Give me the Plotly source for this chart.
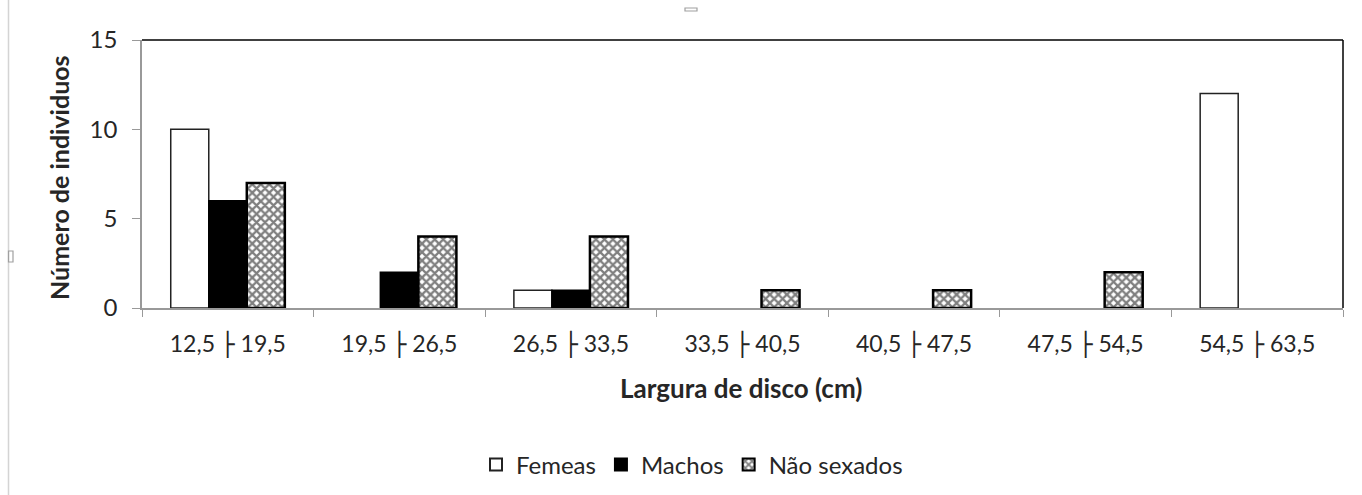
import plotly.graph_objects as go

categories = ["12,5 ├ 19,5", "19,5 ├ 26,5", "26,5 ├ 33,5", "33,5 ├ 40,5",
              "40,5 ├ 47,5", "47,5 ├ 54,5", "54,5 ├ 63,5"]
femeas = [10, 0, 1, 0, 0, 0, 12]
machos = [6, 2, 1, 0, 0, 0, 0]
nao_sexados = [7, 4, 4, 1, 1, 2, 0]
y_ticks = [0, 5, 10, 15]

FONT = "Lato, Liberation Sans, sans-serif"
TXT = "#262626"

# plot area in pixels: left 142, right 1343, top 40, bottom 308
def px(x):
    return (x - 142) / 1201.0

def py(y):
    return (308 - y) / 268.0

def nz(vals):
    return [v if v else None for v in vals]

ticktext = [c.replace(" ├ ", " <span style='font-family:DejaVu Sans;font-weight:bold'>├</span> ")
            for c in categories]

fig = go.Figure()
fig.add_trace(go.Bar(x=categories, y=nz(femeas), name="Femeas",
                     marker=dict(color="white", line=dict(color="#222", width=1.5))))
fig.add_trace(go.Bar(x=categories, y=nz(machos), name="Machos",
                     marker=dict(color="black", line=dict(color="black", width=1.5))))
fig.add_trace(go.Bar(x=categories, y=nz(nao_sexados), name="Não sexados",
                     marker=dict(color="white", line=dict(color="black", width=2.5),
                                 pattern=dict(shape="x", fgcolor="black", bgcolor="white",
                                              size=6, solidity=0.62))))

fig.update_layout(
    width=1362, height=495,
    paper_bgcolor="white", plot_bgcolor="white",
    margin=dict(l=142, r=19, t=40, b=187, autoexpand=False),
    barmode="group", bargap=0.335, bargroupgap=0,
    font=dict(family=FONT, color=TXT),
    showlegend=True,
    legend=dict(orientation="h", x=px(692), xanchor="center", y=py(465), yanchor="middle",
                font=dict(size=24, family=FONT, color=TXT), itemsizing="constant",
                traceorder="normal", itemwidth=30),
    xaxis=dict(
        tickvals=categories, ticktext=ticktext,
        tickfont=dict(size=23, family=FONT, color=TXT),
        showline=True, linecolor="#999", linewidth=1.5, mirror=False,
        ticks="outside", ticklen=7, tickcolor="#999", tickson="boundaries",
        ticklabelstandoff=15,
        showgrid=False,
    ),
    yaxis=dict(
        range=[0, 15], tickvals=y_ticks, tickfont=dict(size=24, family=FONT, color=TXT),
        showline=True, linecolor="#999", linewidth=1.5,
        ticks="outside", ticklen=8, tickcolor="#999", ticklabelstandoff=10,
        showgrid=False, zeroline=False,
    ),
    annotations=[
        dict(text="<b>Largura de disco (cm)</b>", xref="paper", yref="paper",
             x=px(741), y=py(388), xanchor="center", yanchor="middle", showarrow=False,
             font=dict(size=26, family=FONT, color=TXT)),
        dict(text="<b>Número de individuos</b>", xref="paper", yref="paper",
             x=px(59), y=py(177), xanchor="center", yanchor="middle", showarrow=False,
             textangle=-90, font=dict(size=25, family=FONT, color=TXT)),
    ],
)
# top and right border of plot area
fig.add_shape(type="line", xref="paper", yref="paper", x0=0, x1=1, y0=1, y1=1,
              line=dict(color="black", width=1.5))
fig.add_shape(type="line", xref="paper", yref="paper", x0=1, x1=1, y0=0, y1=1,
              line=dict(color="black", width=1.5))
# chart frame edge and selection handles
fig.add_shape(type="line", xref="paper", yref="paper", x0=px(8.5), x1=px(8.5),
              y0=py(0), y1=py(495), line=dict(color="#d4d4d4", width=1.5))
fig.add_shape(type="rect", xref="paper", yref="paper", x0=px(8.5), x1=px(13),
              y0=py(262), y1=py(251), line=dict(color="#a0a0a0", width=1.2))
fig.add_shape(type="rect", xref="paper", yref="paper", x0=px(685), x1=px(697),
              y0=py(11), y1=py(8), line=dict(color="#a0a0a0", width=1.2))

fig.write_html("out.html", config={"displayModeBar": False},
               post_script="document.body.style.margin='0';")
